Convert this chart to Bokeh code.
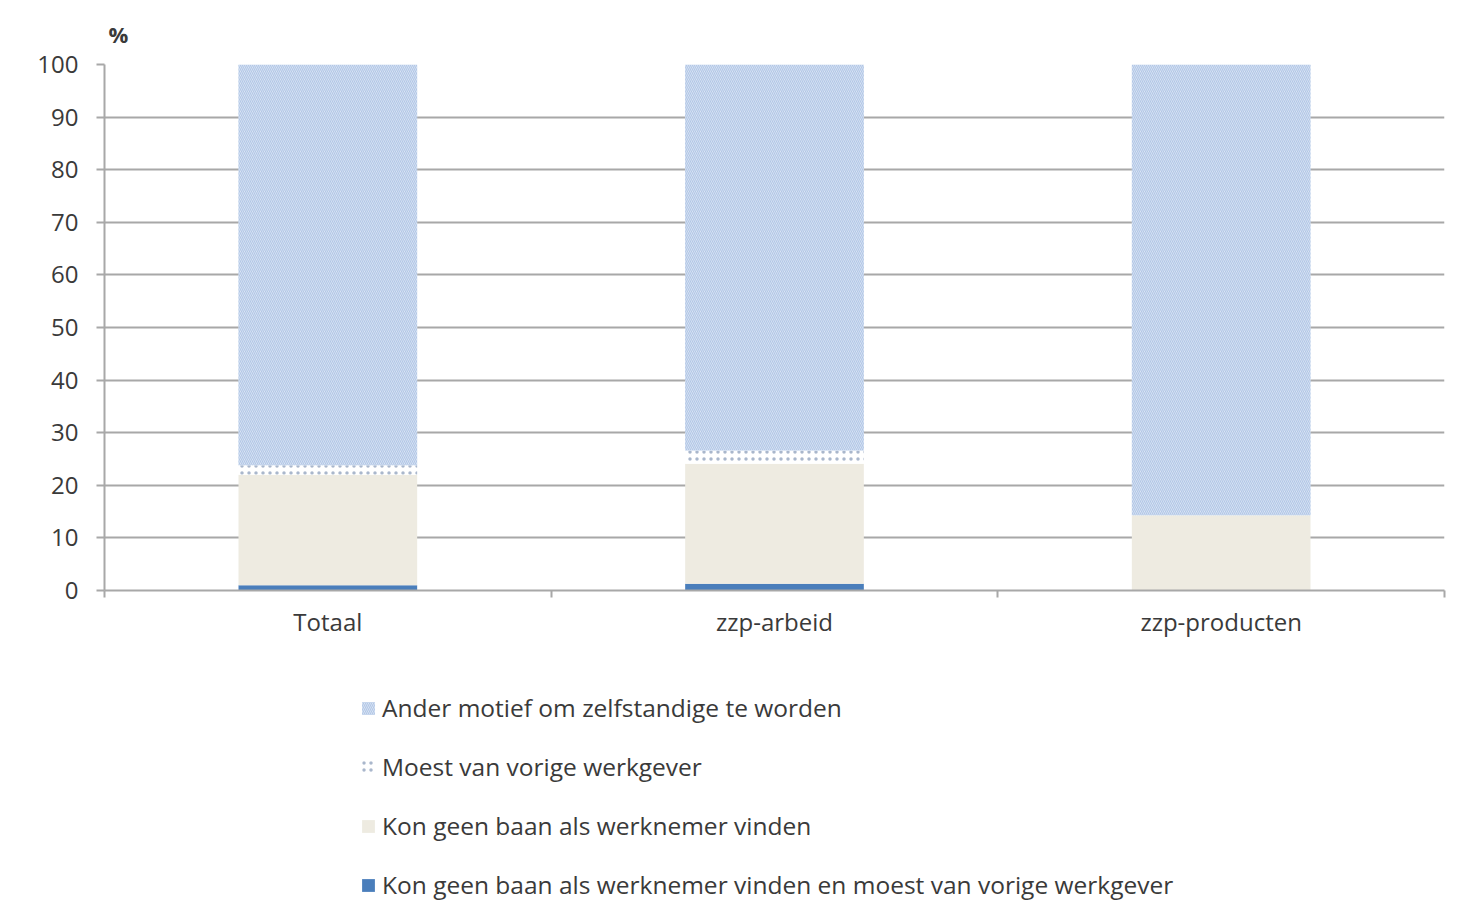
from bokeh.plotting import figure
from bokeh.models import FixedTicker, Legend, LegendItem, Range1d, ColumnDataSource
from bokeh.layouts import column
from bokeh.embed import file_html
from bokeh.resources import INLINE

categories = ["Totaal", "zzp-arbeid", "zzp-producten"]
series_names = [
    "Kon geen baan als werknemer vinden en moest van vorige werkgever",
    "Kon geen baan als werknemer vinden",
    "Moest van vorige werkgever",
    "Ander motief om zelfstandige te worden",
]
beide = [1.0, 1.3, 0.0]
geen_baan = [21.0, 22.8, 14.3]
moest = [1.8, 2.5, 0.0]
ander = [76.2, 73.4, 85.7]
y_ticks = [0, 10, 20, 30, 40, 50, 60, 70, 80, 90, 100]
unit_label = "%"

FONT = "Open Sans"
TXT = "#3a3a3a"
GRID = "#a8a8a8"
fills = ["#4a7ebb", "#eeebe1", "#ffffff", "#e0e9f6"]
hatches = [None, None, "dot", "\\"]
hatch_colors = [None, None, "#a9b7cc", "#b2c7e6"]
hatch_scales = [1, 1, 7, 4]

x_pos = [i + 0.5 for i in range(len(categories))]
source = ColumnDataSource(dict(x=x_pos, beide=beide, geen_baan=geen_baan, moest=moest, ander=ander))


def style_glyph(glyph, i):
    if hatches[i]:
        glyph.hatch_pattern = hatches[i]
        glyph.hatch_color = hatch_colors[i]
        glyph.hatch_scale = hatch_scales[i]
        glyph.hatch_weight = 1.2


p = figure(width=1459, height=660, output_backend="svg", toolbar_location=None,
           x_range=Range1d(0, len(categories)), y_range=Range1d(0, 100),
           min_border_left=104, min_border_right=15, min_border_top=64, min_border_bottom=70)
p.outline_line_color = None
p.border_fill_color = "white"

stackers = ["beide", "geen_baan", "moest", "ander"]
rs = p.vbar_stack(stackers, x="x", width=0.4, source=source, color=fills, line_color=None)
for i, r in enumerate(rs):
    style_glyph(r.glyph, i)

# title used for the unit "%"
p.title.text = unit_label
p.title.align = "left"
p.title.offset = 4
p.title.text_font = FONT
p.title.text_font_style = "bold"
p.title.text_font_size = "22px"
p.title.text_color = TXT
p.title.standoff = 32

# axes
p.yaxis.ticker = FixedTicker(ticks=y_ticks)
p.yaxis.axis_line_color = GRID
p.yaxis.axis_line_width = 2
p.yaxis.major_tick_line_color = GRID
p.yaxis.major_tick_line_width = 2
p.yaxis.major_tick_in = 0
p.yaxis.major_tick_out = 8
p.yaxis.minor_tick_line_color = None
p.yaxis.major_label_text_font = FONT
p.yaxis.major_label_text_font_size = "24px"
p.yaxis.major_label_text_color = TXT
p.yaxis.major_label_standoff = 18

p.xaxis.ticker = FixedTicker(ticks=x_pos, minor_ticks=list(range(len(categories) + 1)))
p.xaxis.major_label_overrides = {x: c for x, c in zip(x_pos, categories)}
p.xaxis.axis_line_color = GRID
p.xaxis.axis_line_width = 2
p.xaxis.major_tick_line_color = None
p.xaxis.minor_tick_line_color = GRID
p.xaxis.minor_tick_line_width = 2
p.xaxis.minor_tick_in = 0
p.xaxis.minor_tick_out = 7
p.xaxis.major_label_text_font = FONT
p.xaxis.major_label_text_font_size = "24px"
p.xaxis.major_label_text_color = TXT
p.xaxis.major_label_standoff = 7

p.xgrid.grid_line_color = None
p.ygrid.ticker = FixedTicker(ticks=y_ticks)
p.ygrid.grid_line_color = GRID
p.ygrid.grid_line_width = 2

# legend figure (swatch-only renderers kept outside the visible range)
lf = figure(width=1459, height=251, output_backend="svg", toolbar_location=None,
            x_range=Range1d(0, 1), y_range=Range1d(0, 1),
            min_border=0, min_border_left=0, min_border_right=0, min_border_top=0, min_border_bottom=0)
lf.axis.visible = False
lf.grid.visible = False
lf.outline_line_color = None
dummy = ColumnDataSource(dict(x=[-10], top=[-10]))
lrs = []
for i in range(len(series_names)):
    r = lf.vbar(x="x", top="top", width=0.1, source=dummy, fill_color=fills[i], line_color=None)
    style_glyph(r.glyph, i)
    lrs.append(r)

items = [LegendItem(label=series_names[i], renderers=[lrs[i]]) for i in [3, 2, 1, 0]]
legend = Legend(items=items, orientation="vertical", location=(256, 10),
                label_text_font=FONT, label_text_font_size="24.5px", label_text_color=TXT,
                glyph_width=16, glyph_height=16, label_height=32, label_standoff=6,
                spacing=26, padding=0, margin=0, border_line_color=None,
                background_fill_alpha=0)
lf.add_layout(legend, "center")

layout = column(p, lf, spacing=0)
open("out.html", "w").write(file_html(layout, INLINE))
